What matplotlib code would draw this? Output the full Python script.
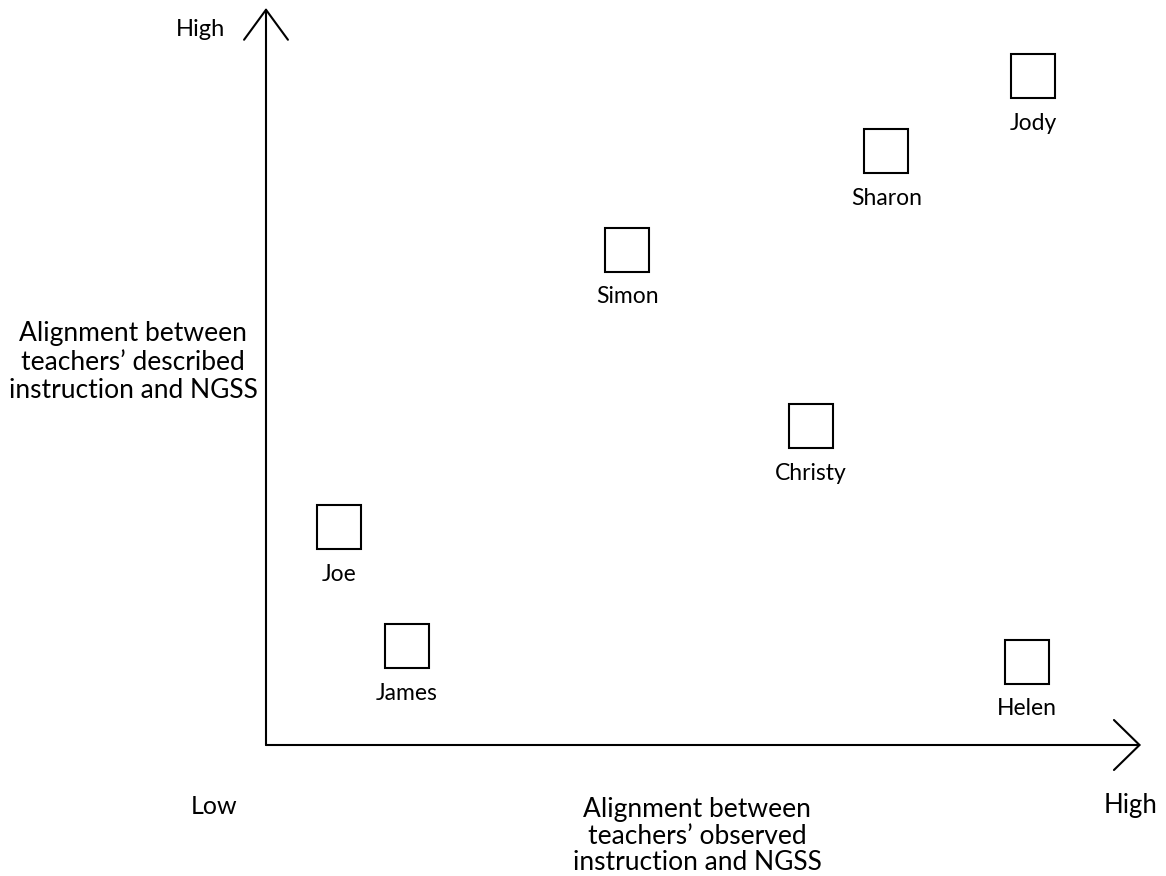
"""Teacher alignment map: described vs observed instruction against NGSS."""

import matplotlib

matplotlib.use("Agg")
import matplotlib.pyplot as plt

plt.rcParams["font.family"] = ["Lato", "DejaVu Sans"]

# positions on a 0-10 scale (low -> high) for both axes
teachers = ["Joe", "James", "Simon", "Christy", "Sharon", "Jody", "Helen"]
observed = [0.83, 1.61, 4.13, 6.23, 7.09, 8.77, 8.70]
described = [2.96, 1.34, 6.72, 4.33, 8.06, 9.08, 1.13]

W, H = 1166, 876
fig = plt.figure(figsize=(W / 100, H / 100), dpi=100)
ax = fig.add_axes([266 / W, 1 - 745 / H, 875 / W, 737 / H])
ax.set_xlim(0, 10)
ax.set_ylim(0, 10)
ax.axis("off")

# axes drawn as open arrows
ax.annotate("", xy=(0, 10), xytext=(0, 0),
            arrowprops=dict(arrowstyle="->,head_length=1.08,head_width=0.79",
                            mutation_scale=20, lw=1.5, color="black",
                            shrinkA=0, shrinkB=0))
ax.annotate("", xy=(10, 0), xytext=(0, 0),
            arrowprops=dict(arrowstyle="->,head_length=0.92,head_width=0.9",
                            mutation_scale=20, lw=1.5, color="black",
                            shrinkA=0, shrinkB=0))

ax.plot(observed, described, linestyle="none", marker="s", ms=32,
        mfc="white", mec="black", mew=1.5, clip_on=False)
for name, x, y in zip(teachers, observed, described):
    ax.annotate(name, (x, y), xytext=(0, -34), textcoords="offset points",
                ha="center", va="center", fontsize=16.5)

fig.text(200 / W, 1 - 29 / H, "High", ha="center", va="center", fontsize=17)
fig.text(214 / W, 1 - 806 / H, "Low", ha="center", va="center", fontsize=18)
fig.text(1131 / W, 1 - 806 / H, "High", ha="center", va="center", fontsize=18.5)
fig.text(133 / W, 1 - 362 / H,
         "Alignment between\nteachers’ described\ninstruction and NGSS",
         ha="center", va="center", multialignment="center",
         fontsize=19, linespacing=1.2)
fig.text(697 / W, 1 - 836 / H,
         "Alignment between\nteachers’ observed\ninstruction and NGSS",
         ha="center", va="center", multialignment="center",
         fontsize=19, linespacing=1.1)

fig.savefig("out.png", dpi=100, facecolor="white")
